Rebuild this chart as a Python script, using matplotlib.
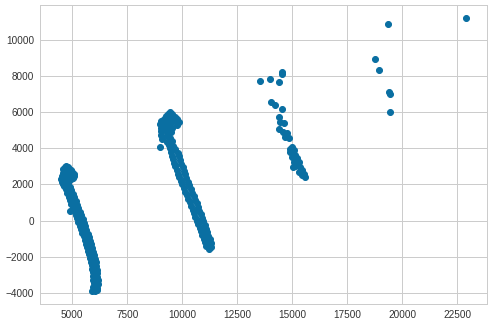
import matplotlib
matplotlib.use("Agg")
import matplotlib.pyplot as plt

# ---- data ----
c1_x = [4520, 4560, 4600, 4650, 4720, 4800, 4870, 4930, 5000, 5060, 5080, 4500, 4600, 4700, 4800, 4900, 5000,
        4550, 4650, 4750, 4850, 4950, 5050, 4600, 4700, 4800,
        4640, 4900, 4700, 4960, 4760, 5020, 4830, 5090, 4890, 5150, 4960, 5210, 5020, 5280,
        4910, 5090, 5340, 5150, 5400, 5210, 5470, 5280, 5520, 5340, 5580, 5400, 5640, 5460, 5700,
        5520, 5750, 5580, 5800, 5630, 5850, 5680, 5900, 5730, 5950, 5780, 5980, 5820, 6020, 5860, 6060,
        5890, 6090, 5910, 6110, 5940, 6130, 5950, 6140, 5960, 6150, 5970, 6150, 5960, 6140,
        5900, 6030, 6120]
c1_y = [2450, 2650, 2850, 2980, 3020, 2950, 2880, 2780, 2700, 2600, 2450, 2300, 2450, 2650, 2700, 2550, 2450,
        2150, 2250, 2350, 2250, 2300, 2350, 2050, 2100, 2100,
        1900, 1860, 1720, 1680, 1520, 1480, 1320, 1280, 1120, 1080, 920, 880, 720, 680,
        500, 520, 480, 320, 280, 120, 80, -80, -120, -280, -320, -480, -520, -680, -720,
        -880, -920, -1080, -1120, -1280, -1320, -1480, -1520, -1680, -1720, -1880, -1920, -2080, -2120, -2280, -2320,
        -2480, -2520, -2680, -2720, -2880, -2920, -3080, -3120, -3280, -3320, -3480, -3520, -3680, -3720,
        -3880, -3930, -3850]

c2_x = [9450, 9350, 9550, 9250, 9680, 9150, 9450, 9780, 9050, 9300, 9600, 9850, 8980, 9200, 9450, 9750,
        9050, 9300, 9550, 9050, 9250, 9500, 9050, 9300, 9450, 9080, 9300, 9550, 9000, 9400, 9600, 9450, 9650,
        9490, 9810, 9540, 9860, 9590, 9910, 9640, 9960, 9690, 10010, 9740, 10060, 9790, 10110, 9860, 10180,
        9920, 10240, 9990, 10310, 10060, 10380, 10140, 10450, 10200, 10510, 10270, 10580, 10340, 10650,
        10400, 10710, 10470, 10770, 10540, 10830, 10600, 10890, 10660, 10950, 10720, 11010, 10790, 11070,
        10850, 11130, 10910, 11190, 10980, 11250, 11040, 11300, 11100, 11320, 11230]
c2_y = [6020, 5900, 5880, 5780, 5750, 5650, 5700, 5620, 5500, 5520, 5500, 5450, 5320, 5330, 5350, 5300,
        5150, 5150, 5120, 4950, 4950, 4900, 4750, 4700, 4550, 4500, 4350, 4380, 4100, 4200, 4150, 4000, 3950,
        3800, 3750, 3600, 3550, 3400, 3350, 3200, 3150, 3000, 2950, 2800, 2750, 2600, 2550, 2400, 2350,
        2200, 2150, 2000, 1950, 1800, 1750, 1600, 1550, 1400, 1350, 1200, 1150, 1000, 950,
        800, 750, 600, 550, 400, 350, 200, 150, 0, -50, -200, -250, -400, -450,
        -600, -650, -800, -850, -1000, -1050, -1200, -1250, -1400, -1450, -1580]

c3_x = [13545, 13968, 14377, 14530, 14510, 14045, 14227, 14530, 14377, 14454, 14605, 14377, 14575, 14757,
        14680, 14832, 14985, 15060, 14909, 15136, 14985, 15212, 15060, 15288, 15136, 15364, 15030, 15440,
        15288, 15515, 15590, 15440, 14909]
c3_y = [7742, 7837, 7670, 8227, 8116, 6556, 6405, 6166, 5720, 5475, 5386, 5052, 4918, 4829,
        4640, 4550, 4049, 3900, 3804, 3620, 3526, 3437, 3247, 3247, 3008, 2969, 2969, 2785,
        2690, 2601, 2412, 2507, 3938]

c4_x = [19331, 22908, 18772, 18923, 19377, 19422, 19422]
c4_y = [10900, 11233, 8968, 8355, 7112, 7000, 5998]

x_ticks = [5000, 7500, 10000, 12500, 15000, 17500, 20000, 22500]
y_ticks = [-4000, -2000, 0, 2000, 4000, 6000, 8000, 10000]

# ---- figure ----
plt.rcParams['font.family'] = ['Liberation Sans', 'DejaVu Sans']
fig = plt.figure(figsize=(493 / 72, 327 / 72), dpi=72)
ax = fig.add_axes([0.0811, 0.0703, 0.9061, 0.9144])

color = '#0a6fa2'
xs = c1_x + c2_x + c3_x + c4_x
ys = c1_y + c2_y + c3_y + c4_y
ax.scatter(xs, ys, s=36, color=color, zorder=3)

ax.set_xlim(3532, 23836)
ax.set_ylim(-4626, 11939)
ax.set_xticks(x_ticks)
ax.set_yticks(y_ticks)
ax.grid(True, color='#cccccc', linewidth=1.0, zorder=0)
ax.set_axisbelow(True)
for sp in ax.spines.values():
    sp.set_color('#cccccc')
    sp.set_linewidth(1.0)
ax.tick_params(length=0, labelsize=10, colors='#333333', pad=6)
ax.set_facecolor('white')

fig.savefig('out.png', dpi=72)
